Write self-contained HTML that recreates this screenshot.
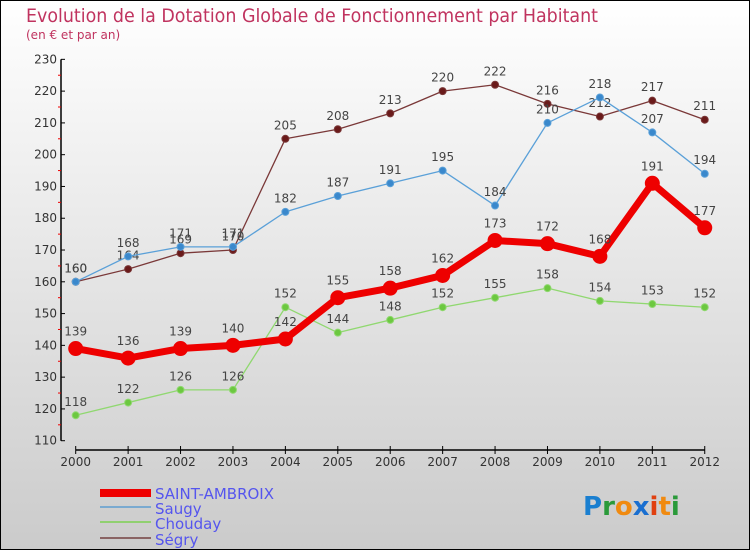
<!DOCTYPE html>
<html><head><meta charset="utf-8"><style>
body{margin:0}
#c{width:750px;height:550px;position:relative;overflow:hidden}
svg text{font-family:"DejaVu Sans","Liberation Sans",sans-serif}
</style></head><body>
<div id="c">
<svg id="s" width="750" height="550" xmlns="http://www.w3.org/2000/svg">
<defs><linearGradient id="bg" x1="0" y1="0" x2="0" y2="1"><stop offset="0" stop-color="#ffffff"/><stop offset="1" stop-color="#cbcbcb"/></linearGradient></defs>
<rect x="0.5" y="0.5" width="749" height="549" fill="url(#bg)" stroke="#000"/>
<text x="26" y="22" font-size="19" fill="#c0335f" textLength="572" lengthAdjust="spacingAndGlyphs">Evolution de la Dotation Globale de Fonctionnement par Habitant</text>
<text x="26" y="39" font-size="12" fill="#c0335f">(en € et par an)</text>
<g id="axes"></g><g id="series"></g>
<g>
<rect x="100" y="489" width="51" height="8" fill="#e00"/>
<text x="155" y="499" font-size="15" fill="#5555ee">SAINT-AMBROIX</text>
<rect x="100" y="506" width="51" height="2" fill="#7aaad0"/>
<text x="155" y="514" font-size="15" fill="#5555ee">Saugy</text>
<rect x="100" y="521" width="51" height="2" fill="#90d070"/>
<text x="155" y="529" font-size="15" fill="#5555ee">Chouday</text>
<rect x="100" y="537" width="51" height="2" fill="#8a6464"/>
<text x="155" y="545" font-size="15" fill="#5555ee">Ségry</text>
</g>
<g font-size="26" font-weight="bold">
<text x="583" y="515"><tspan fill="#1a7fd0">P</tspan><tspan fill="#2a9a3a">r</tspan><tspan fill="#f08a10">o</tspan><tspan fill="#1a6fd0">x</tspan><tspan fill="#e04010">i</tspan><tspan fill="#f08a10">t</tspan><tspan fill="#2a9a3a">i</tspan></text>
</g>
</svg></div>
<script>
const years=[2000,2001,2002,2003,2004,2005,2006,2007,2008,2009,2010,2011,2012];
const saintAmbroix=[139,136,139,140,142,155,158,162,173,172,168,191,177];
const saugy=[160,168,171,171,182,187,191,195,184,210,218,207,194];
const chouday=[118,122,126,126,152,144,148,152,155,158,154,153,152];
const segry=[160,164,169,170,205,208,213,220,222,216,212,217,211];
const yTicks=[110,120,130,140,150,160,170,180,190,200,210,220,230];
const NS="http://www.w3.org/2000/svg";
const xs=i=>75.7+i*52.42;
const ys=v=>440.7-(v-110)*3.178;
function mk(t,a,p){const e=document.createElementNS(NS,t);for(const k in a)e.setAttribute(k,a[k]);p.appendChild(e);return e;}
const ax=document.getElementById('axes');
let l=mk('line',{x1:61,y1:ys(230),x2:61,y2:ys(110),stroke:'#000','stroke-width':1.5},ax);


l=mk('line',{x1:xs(0),y1:450,x2:xs(12),y2:450,stroke:'#000','stroke-width':1.5},ax);


yTicks.forEach((v,i)=>{
 mk('line',{x1:61,y1:ys(v),x2:65,y2:ys(v),stroke:'#000'},ax);
 if(i<yTicks.length-1) mk('line',{x1:58,y1:ys(v+5),x2:61,y2:ys(v+5),stroke:'#e00'},ax);
 const t=mk('text',{x:57,y:ys(v)+4,'font-size':12,fill:'#333','text-anchor':'end'},ax);
 t.textContent=v;
 
 
});
years.forEach((y,i)=>{
 mk('line',{x1:xs(i),y1:446,x2:xs(i),y2:454,stroke:'#000'},ax);
 const t=mk('text',{x:xs(i),y:466,'font-size':12,fill:'#333','text-anchor':'middle'},ax);
 t.textContent=y;
 
 
});
const sg=document.getElementById('series');
function series(name,data,color,w,r,fill){
 const g=mk('g',{},sg);
 
 
 const p=mk('polyline',{points:data.map((v,i)=>xs(i)+','+ys(v)).join(' '),fill:'none',stroke:color,'stroke-width':w,'stroke-linejoin':'round'},g);
 
 
 data.forEach((v,i)=>{
  const c=mk('circle',{cx:xs(i),cy:ys(v),r:r,fill:fill,stroke:color,'stroke-width':1},g);
  
  
  const t=mk('text',{x:xs(i),y:ys(v)-(r+6),'font-size':12,fill:'#444','text-anchor':'middle'},g);
  t.textContent=v;
  
  
 });
}
series('segry',segry,'#7a3838',1.3,3.5,'#6a1a1a');
series('saugy',saugy,'#5aa0d8',1.3,3.5,'#3a88cc');
series('chouday',chouday,'#90d870',1.3,3.5,'#6cc840');
series('saint-ambroix',saintAmbroix,'#ee0000',7,7,'#ee0000');
</script>
</body></html>
